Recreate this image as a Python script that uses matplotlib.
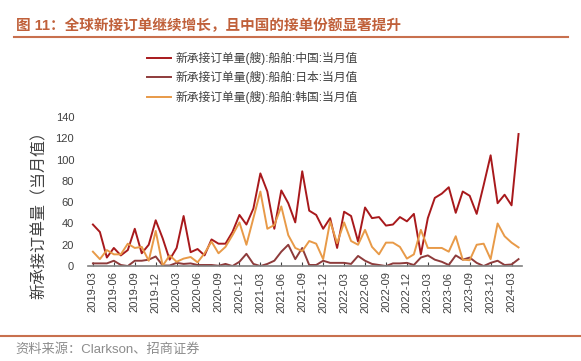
import pandas as pd
import matplotlib.pyplot as plt

plt.rcParams['font.family'] = ['Liberation Sans', 'Noto Sans CJK SC', 'DejaVu Sans']

# --- 数据 (2019-03 ~ 2024-04, 当月值, 艘) ---
months = pd.date_range('2019-03-01', '2024-04-01', freq='MS').strftime('%Y-%m').tolist()

china = [39, 32, 8, 17, 10, 15, 35, 12, 20, 43, 26, 6, 17, 47, 13, 16, 10, 25, 21, 21,
         32, 48, 39, 54, 87, 70, 35, 71, 59, 41, 89, 52, 48, 35, 45, 17, 51, 47, 23, 55,
         45, 46, 38, 39, 46, 42, 49, 11, 45, 64, 68, 74, 50, 70, 66, 49, 76, 104, 59, 67,
         57, 124]
japan = [2.5, 2.5, 2.5, 5, 1, 0, 5, 5, 6, 9, 0.5, 0.5, 3, 2, 2.5, 1, 1, 1, 0.3, 2,
         0, 4, 11.5, 2, 0, 2, 5, 13.5, 20, 6.5, 17, 1, 1, 5, 3, 3, 3, 2, 9.5, 5,
         2, 1, 0, 2.5, 2.5, 3, 1, 8, 10, 6, 4, 1, 10, 6, 8, 3, 0, 3, 5, 1,
         1.5, 6.5]
korea = [13.5, 6.5, 15, 11, 11, 21, 17, 18, 5, 33, 0.3, 10, 4, 7, 8.5, 3.5, 12, 23, 12, 18,
         29, 41, 20, 45, 70, 35, 38.5, 56, 29, 17, 14, 23.5, 21, 6.5, 42, 21.5, 41, 23.5, 20, 34,
         18, 11, 22, 22, 18, 7, 11, 34, 17, 17, 17, 13.5, 28, 6, 5.5, 20, 21, 6.5, 40, 28,
         22, 17.5]

labels = ['新承接订单量(艘):船舶:中国:当月值',
          '新承接订单量(艘):船舶:日本:当月值',
          '新承接订单量(艘):船舶:韩国:当月值']
colors = ['#A8191C', '#8E3B3B', '#E89A48']

fig = plt.figure(figsize=(5.81, 3.61), dpi=100)
ax = fig.add_axes([0.1515, 0.263, 0.747, 0.413])

x = list(range(len(months)))
for vals, lab, c in zip([china, japan, korea], labels, colors):
    ax.plot(x, vals, color=c, lw=1.4, label=lab)

ax.set_xlim(-0.7, 61.5)
ax.set_ylim(0, 140)
ax.set_yticks(range(0, 141, 20))
tick_idx = x[::3]
ax.set_xticks(tick_idx)
ax.set_xticklabels([months[i] for i in tick_idx], rotation=90)
ax.tick_params(axis='x', labelsize=8, colors='#404040', length=3, direction='in', pad=4)
ax.tick_params(axis='y', labelsize=8, colors='#404040', length=0, pad=10)
for s in ['top', 'right', 'left']:
    ax.spines[s].set_visible(False)
ax.spines['bottom'].set_color('#808080')
ax.spines['bottom'].set_linewidth(1.2)
ax.set_ylabel('新承接订单量（当月值）', fontsize=11.5, color='#404040')
ax.yaxis.set_label_coords(-0.095, 0.37)

fig.legend(loc='upper center', bbox_to_anchor=(0.435, 0.885), frameon=False,
           fontsize=8.5, labelcolor='#404040', handlelength=2.0, handletextpad=0.4,
           labelspacing=0.52)

# 标题与来源
fig.text(0.028, 0.93, '图 11：全球新接订单继续增长，且中国的接单份额显著提升',
         fontsize=10.5, fontweight='bold', color='#C0603A', va='center')
fig.add_artist(plt.Line2D([0.024, 0.978], [0.898, 0.898], color='#C8704E', lw=1.5))
fig.add_artist(plt.Line2D([0.0, 1.0], [0.068, 0.068], color='#C8704E', lw=1.5))
fig.text(0.026, 0.032, '资料来源：Clarkson、招商证券', fontsize=9.5, color='#8C8C8C', va='center')

fig.savefig('out.png', dpi=100)
